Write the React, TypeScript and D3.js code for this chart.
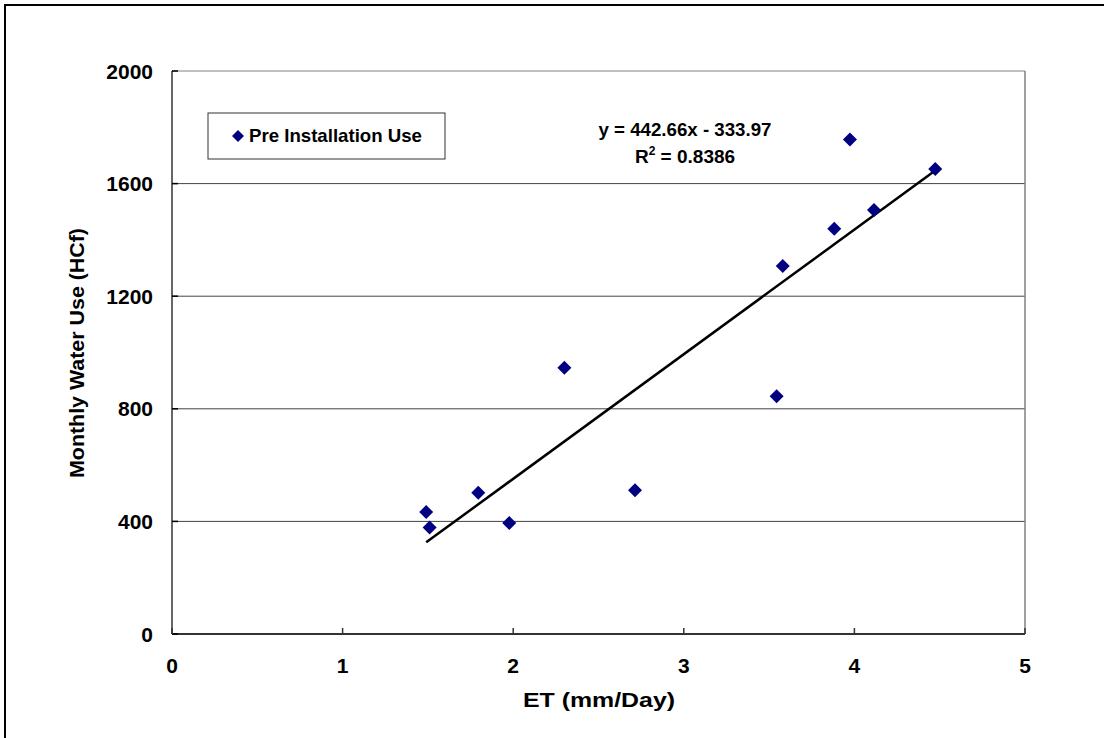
import React from "react";
import * as d3 from "d3";

const etValues = [1.49, 1.51, 1.795, 1.977, 2.30, 2.714, 3.544, 3.58, 3.882, 3.974, 4.115, 4.474];
const waterUse = [433, 378, 502, 394, 946, 511, 845, 1307, 1440, 1757, 1506, 1652];
const xTicks = [0, 1, 2, 3, 4, 5];
const yTicks = [0, 400, 800, 1200, 1600, 2000];
const slope = 442.66;
const intercept = -333.97;
const rSquared = "0.8386";
const seriesName = "Pre Installation Use";

const W = 1104, H = 738;
const L = 172, R = 1025, T = 71, B = 634;
const FONT = "Arial, 'Liberation Sans', sans-serif";

export default function App() {
  const x = d3.scaleLinear().domain([0, 5]).range([L, R]);
  const y = d3.scaleLinear().domain([0, 2000]).range([B, T]);
  const xMin = d3.min(etValues) as number;
  const xMax = d3.max(etValues) as number;
  const line = d3.line<number>().x(d => x(d)).y(d => y(slope * d + intercept));
  const diamond = (cx: number, cy: number, r: number) =>
    `M${cx},${cy - r}L${cx + r},${cy}L${cx},${cy + r}L${cx - r},${cy}Z`;
  return (
    <svg width={W} height={H} style={{ position: "absolute", left: 0, top: 0, display: "block", background: "#fff" }} fontFamily={FONT}>
      <rect x={5} y={5} width={W + 10} height={H + 10} fill="#fff" stroke="#000" strokeWidth={2} />
      {yTicks.map(t => (
        <line key={"g" + t} x1={L} x2={R} y1={y(t)} y2={y(t)} stroke={t === 2000 ? "#808080" : "#444"} strokeWidth={1} />
      ))}
      <line x1={R} x2={R} y1={T} y2={B} stroke="#808080" strokeWidth={1.5} />
      <line x1={L} x2={L} y1={T} y2={B} stroke="#333" strokeWidth={1.5} />
      <line x1={L} x2={R} y1={B} y2={B} stroke="#333" strokeWidth={2} />
      {yTicks.map(t => (
        <line key={"yt" + t} x1={L} x2={L + 6} y1={y(t)} y2={y(t)} stroke="#000" strokeWidth={1.5} />
      ))}
      {xTicks.map(t => (
        <line key={"xt" + t} x1={x(t)} x2={x(t)} y1={B} y2={B - 6} stroke="#333" strokeWidth={1.5} />
      ))}
      {yTicks.map(t => (
        <text key={"yl" + t} x={153} y={y(t) + 7.5} textAnchor="end" fontSize={21} fontWeight="bold">{t}</text>
      ))}
      {xTicks.map(t => (
        <text key={"xl" + t} x={x(t)} y={673} textAnchor="middle" fontSize={21} fontWeight="bold">{t}</text>
      ))}
      <text x={599} y={707} textAnchor="middle" fontSize={21} fontWeight="bold" textLength={152} lengthAdjust="spacingAndGlyphs">ET (mm/Day)</text>
      <text transform={`translate(84,353) rotate(-90)`} textAnchor="middle" fontSize={21} fontWeight="bold" textLength={250} lengthAdjust="spacingAndGlyphs">Monthly Water Use (HCf)</text>
      <path d={line([xMin, xMax]) as string} stroke="#000" strokeWidth={2.5} fill="none" />
      {etValues.map((v, i) => (
        <path key={"p" + i} d={diamond(x(v), y(waterUse[i]), 7)} fill="#000080" />
      ))}
      <rect x={208} y={113} width={237} height={46} fill="#fff" stroke="#333" strokeWidth={1} />
      <path d={diamond(238, 136, 6)} fill="#000080" />
      <text x={249} y={142} fontSize={18.5} fontWeight="bold" textLength={173} lengthAdjust="spacingAndGlyphs">{seriesName}</text>
      <text x={685} y={136} textAnchor="middle" fontSize={19} fontWeight="bold" textLength={173} lengthAdjust="spacingAndGlyphs">{`y = ${slope}x - ${Math.abs(intercept)}`}</text>
      <text x={685} y={163} textAnchor="middle" fontSize={19} fontWeight="bold">
        R<tspan dy={-8} fontSize={12}>2</tspan><tspan dy={8}>{` = ${rSquared}`}</tspan>
      </text>
    </svg>
  );
}
